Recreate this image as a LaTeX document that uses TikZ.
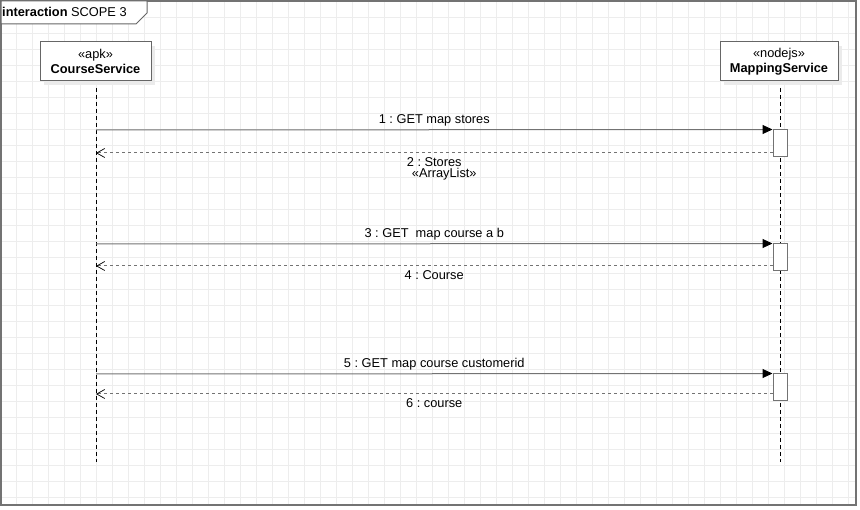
\documentclass[tikz,border=0pt]{standalone}
\usepackage{fontspec}
\setmainfont{Liberation Sans}
\usetikzlibrary{positioning,arrows.meta,shadows}
\frenchspacing

\begin{document}
\begin{tikzpicture}[x=1pt,y=-1pt,
    head node/.style={draw=black!60,line width=1pt,fill=white,minimum width=111pt,minimum height=39pt,align=center,inner sep=0pt,
        font=\fontsize{12.8}{14.5}\selectfont,drop shadow={shadow xshift=4pt,shadow yshift=-4pt,fill=black!8,opacity=1}},
    act node/.style={draw=black!55,line width=1pt,fill=white,minimum width=14pt,minimum height=27pt,inner sep=0pt},
    lifeline/.style={black,line width=0.8pt,dash pattern=on 4pt off 3pt},
    msg/.style={draw=black!55,line width=1pt,-{Triangle[black,length=10pt,width=9pt]}},
    ret/.style={draw=black!55,line width=1pt,dash pattern=on 3pt off 3pt,-{Straight Barb[black,length=8pt,width=9pt,line width=0.7pt]}},
    lbl/.style={font=\fontsize{12.8}{14}\selectfont,inner sep=1pt}]

    \useasboundingbox (0,0) rectangle (860,510);
    \draw[black!7,line width=1pt,shift={(0,2)}] (0,-2) grid[step=16pt] (856,503);
    \draw[black!55,line width=2pt] (1,1) rectangle (856,505);

    % frame tab
    \draw[black!60,fill=white,line width=1pt] (1,1) -- (147,1) -- (147,13) -- (136,24) -- (1,24) -- cycle;
    \node[lbl,anchor=west] (title) at (1,12) {\textbf{interaction} SCOPE 3};

    % lifelines
    \coordinate (csend) at (96,462);
    \coordinate (msend) at (780,462);
    \draw[lifeline] (96,81) -- (csend);
    \draw[lifeline] (780,81) -- (msend);

    \node[head node] (cs) at (95.5,61.5) {«apk»\\\textbf{CourseService}};
    \node[head node,minimum width=118pt] (ms) at (779,61.5) {«nodejs»\\\textbf{MappingService}};

    \node[act node] (a1) at (780,143.5) {};
    \node[act node] (a2) at (780,257.5) {};
    \node[act node] (a3) at (780,387.5) {};

    \coordinate (m1) at (96,130);
    \coordinate (r1) at (96,153);
    \coordinate (m2) at (96,244);
    \coordinate (r2) at (96,266);
    \coordinate (m3) at (96,374);
    \coordinate (r3) at (96,394);

    \draw[msg] (m1) -- node[lbl,above,yshift=2pt] {1 : GET map stores} (a1.north west);
    \draw[ret] (a1.west |- r1) -- node[lbl,below,yshift=-3pt] (stores) {2 : Stores} (r1);
    \node[lbl,below=-1pt of stores,xshift=10pt] (alist) {«ArrayList»};

    \draw[msg] (m2) -- node[lbl,above,yshift=2pt] {3 : GET\ \ map course a b} (a2.north west);
    \draw[ret] (a2.west |- r2) -- node[lbl,below,yshift=-3pt] {4 : Course} (r2);

    \draw[msg] (m3) -- node[lbl,above,yshift=2pt] {5 : GET map course customerid} (a3.north west);
    \draw[ret] (a3.west |- r3) -- node[lbl,below,yshift=-3pt] {6 : course} (r3);
\end{tikzpicture}
\end{document}
